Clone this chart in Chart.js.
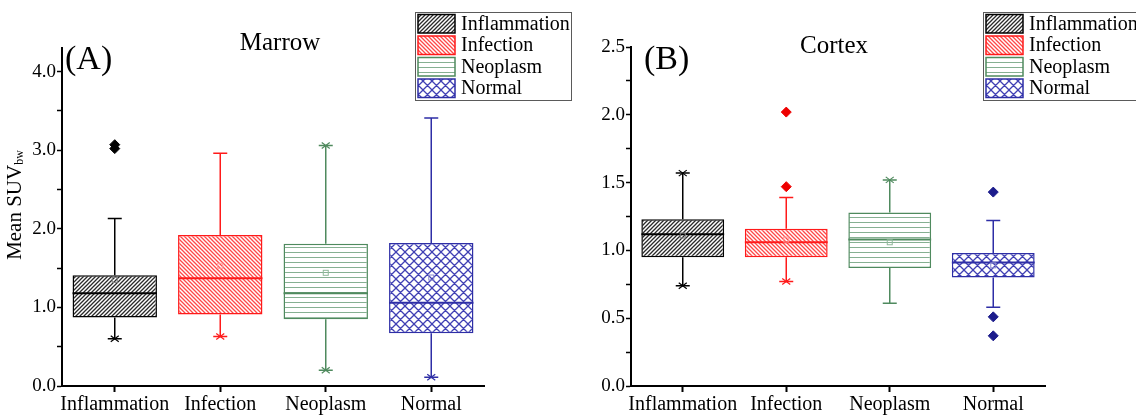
<!DOCTYPE html>
<html>
<head>
<meta charset="utf-8">
<script src="https://cdn.jsdelivr.net/npm/chart.js@4"></script>
<style>
  body { margin: 0; background: #fff; }
  #wrap { position: relative; width: 1136px; height: 416px; overflow: hidden; }
  #marrowWrap { position: absolute; left: 0; top: 0; width: 580px; height: 416px; }
  #cortexWrap { position: absolute; left: 568px; top: 0; width: 568px; height: 416px; }
</style>
</head>
<body>
<div id="wrap">
  <div id="marrowWrap"><canvas id="marrowChart" width="580" height="416"></canvas></div>
  <div id="cortexWrap"><canvas id="cortexChart" width="568" height="416"></canvas></div>
</div>
<script>
// Box chart data - mean SUVbw per diagnosis group

const categories = ['Inflammation', 'Infection', 'Neoplasm', 'Normal'];

// (A) Marrow
const marrowQ1 = [0.87, 0.91, 0.85, 0.67];
const marrowMedian = [1.18, 1.37, 1.18, 1.06];
const marrowQ3 = [1.41, 1.92, 1.81, 1.82];
const marrowLow = [0.60, 0.63, 0.20, 0.11];
const marrowHigh = [2.13, 2.96, 3.06, 3.41];
const marrowMean = [1.35, 1.53, 1.44, 1.38];
const marrowP1 = [0.60, 0.63, 0.20, 0.11];
const marrowP99 = [null, null, 3.06, null];
const marrowOutliers = [[3.02, 3.07], [], [], []];
const marrowTicks = [0, 1, 2, 3, 4];

// (B) Cortex
const cortexQ1 = [0.95, 0.95, 0.87, 0.80];
const cortexMedian = [1.12, 1.06, 1.08, 0.91];
const cortexQ3 = [1.23, 1.16, 1.28, 0.98];
const cortexLow = [0.74, 0.77, 0.61, 0.58];
const cortexHigh = [1.57, 1.39, 1.52, 1.22];
const cortexMean = [1.11, 1.08, 1.06, 0.89];
const cortexP1 = [0.74, 0.77, null, null];
const cortexP99 = [1.57, null, 1.52, null];
const cortexOutliers = [[], [2.02, 1.47], [], [1.43, 0.51, 0.37]];
const cortexTicks = [0, 0.5, 1, 1.5, 2, 2.5];

const lineColors = ['#000000', '#ff1a1a', '#4f8a5e', '#2e2ea6'];
const hatchColors = ['#2a2a2a', '#ff4848', '#86b092', '#4040b4'];
const meanColors = ['#808080', '#ff9a9a', '#8fb89a', '#8a8ad0'];
const dotColors = ['#000000', '#ee0000', '#2e7d40', '#1c1c8c'];
const hatchKinds = ['forward', 'back', 'horizontal', 'cross'];

const serif = "'Liberation Serif', 'Times New Roman', serif";

// small tiles used as fill patterns for the boxes
function hatch(kind, color) {
  const s = kind === 'cross' ? 9 : (kind === 'horizontal' ? 5 : 4);
  const c = document.createElement('canvas');
  c.width = s; c.height = s;
  const g = c.getContext('2d');
  g.fillStyle = '#fff';
  g.fillRect(0, 0, s, s);
  g.strokeStyle = color;
  g.lineWidth = kind === 'horizontal' ? 1 : 1.3;
  g.beginPath();
  if (kind === 'forward' || kind === 'cross') {
    g.moveTo(0, s); g.lineTo(s, 0);
    g.moveTo(-1, 1); g.lineTo(1, -1);
    g.moveTo(s - 1, s + 1); g.lineTo(s + 1, s - 1);
  }
  if (kind === 'back' || kind === 'cross') {
    g.moveTo(0, 0); g.lineTo(s, s);
    g.moveTo(-1, s - 1); g.lineTo(1, s + 1);
    g.moveTo(s - 1, -1); g.lineTo(s + 1, 1);
  }
  if (kind === 'horizontal') {
    g.moveTo(0, 2.5); g.lineTo(s, 2.5);
  }
  g.stroke();
  return g.createPattern(c, 'repeat');
}

const patterns = hatchKinds.map((k, i) => hatch(k, hatchColors[i]));

// whiskers, medians, means, markers, titles and the framed legend
function boxExtras(cfg) {
  return {
    id: 'boxExtras',
    afterDatasetsDraw(chart) {
      const { ctx } = chart;
      const x = chart.scales.x;
      const y = chart.scales.y;
      const bars = chart.getDatasetMeta(0).data;
      ctx.save();
      categories.forEach((cat, i) => {
        const cx = x.getPixelForValue(i);
        const half = bars[i].width / 2;
        const yq1 = y.getPixelForValue(cfg.q1[i]);
        const yq3 = y.getPixelForValue(cfg.q3[i]);
        const ylo = y.getPixelForValue(cfg.low[i]);
        const yhi = y.getPixelForValue(cfg.high[i]);
        ctx.strokeStyle = lineColors[i];
        ctx.lineWidth = 1.5;
        ctx.beginPath();
        ctx.moveTo(cx, yq3); ctx.lineTo(cx, yhi);
        ctx.moveTo(cx, yq1); ctx.lineTo(cx, ylo);
        ctx.moveTo(cx - 7, yhi); ctx.lineTo(cx + 7, yhi);
        ctx.moveTo(cx - 7, ylo); ctx.lineTo(cx + 7, ylo);
        ctx.stroke();
        // median
        const ym = y.getPixelForValue(cfg.median[i]);
        ctx.lineWidth = 2;
        ctx.beginPath();
        ctx.moveTo(cx - half, ym); ctx.lineTo(cx + half, ym);
        ctx.stroke();
        // 1% / 99% crosses
        ctx.lineWidth = 1.2;
        [cfg.p1[i], cfg.p99[i]].forEach(v => {
          if (v === null) return;
          const py = y.getPixelForValue(v);
          ctx.beginPath();
          ctx.moveTo(cx - 4, py - 3); ctx.lineTo(cx + 4, py + 3);
          ctx.moveTo(cx - 4, py + 3); ctx.lineTo(cx + 4, py - 3);
          ctx.stroke();
        });
        // mean
        const ymean = y.getPixelForValue(cfg.mean[i]);
        ctx.strokeStyle = meanColors[i];
        ctx.lineWidth = 1;
        ctx.strokeRect(cx - 2.5, ymean - 2.5, 5, 5);
      });
      ctx.restore();
    },
    afterDraw(chart) {
      const { ctx } = chart;
      ctx.save();
      ctx.fillStyle = '#000';
      ctx.textBaseline = 'middle';
      ctx.textAlign = 'center';
      ctx.font = '25px ' + serif;
      ctx.fillText(cfg.title, cfg.titleX, cfg.titleY);
      ctx.textAlign = 'left';
      ctx.font = '34px ' + serif;
      ctx.fillText(cfg.tag, cfg.tagX, 60);

      if (cfg.yTitle) {
        ctx.translate(15, 205);
        ctx.rotate(-Math.PI / 2);
        ctx.font = '21px ' + serif;
        const w1 = ctx.measureText('Mean SUV').width;
        ctx.font = '12px ' + serif;
        const w2 = ctx.measureText('bw').width;
        const start = -(w1 + w2) / 2;
        ctx.font = '21px ' + serif;
        ctx.fillText('Mean SUV', start, 0);
        ctx.font = '12px ' + serif;
        ctx.fillText('bw', start + w1, 5);
        ctx.setTransform(1, 0, 0, 1, 0, 0);
      }

      // legend frame
      const lx = 415, ly = 12;
      ctx.strokeStyle = '#5a5a5a';
      ctx.lineWidth = 1;
      ctx.strokeRect(lx + 0.5, ly + 0.5, 156, 88);
      categories.forEach((cat, i) => {
        const ry = ly + 2.5 + i * 21.5;
        ctx.fillStyle = patterns[i];
        ctx.fillRect(lx + 3, ry, 37, 18.5);
        ctx.strokeStyle = lineColors[i];
        ctx.lineWidth = 1.5;
        ctx.strokeRect(lx + 3, ry, 37, 18.5);
        ctx.fillStyle = '#000';
        ctx.font = '20px ' + serif;
        ctx.textAlign = 'left';
        ctx.fillText(cat, lx + 46, ry + 10);
      });
      ctx.restore();
    }
  };
}

function makeBoxChart(id, cfg) {
  const outlierPoints = [];
  const outlierColors = [];
  cfg.outliers.forEach((list, i) => {
    list.forEach(v => {
      outlierPoints.push({ x: categories[i], y: v });
      outlierColors.push(dotColors[i]);
    });
  });

  return new Chart(document.getElementById(id).getContext('2d'), {
    type: 'bar',
    data: {
      labels: categories,
      datasets: [{
        label: 'IQR',
        data: categories.map((c, i) => [cfg.q1[i], cfg.q3[i]]),
        backgroundColor: patterns,
        borderColor: lineColors,
        borderWidth: 1.5,
        borderSkipped: false,
        barPercentage: 0.8,
        categoryPercentage: 1
      }, {
        type: 'line',
        label: 'Outliers',
        data: outlierPoints,
        showLine: false,
        pointStyle: 'rectRot',
        pointRadius: 5,
        pointBackgroundColor: outlierColors,
        pointBorderColor: outlierColors,
        pointBorderWidth: 1
      }]
    },
    options: {
      responsive: false,
      animation: false,
      layout: { padding: { left: 0, top: cfg.top, right: cfg.right, bottom: 0 } },
      plugins: {
        legend: { display: false },
        tooltip: { enabled: false }
      },
      scales: {
        x: {
          offset: true,
          grid: { offset: false, drawOnChartArea: false, tickLength: 6, tickWidth: 2, color: '#000' },
          border: { color: '#000', width: 2 },
          ticks: {
            color: '#000', padding: 1, maxRotation: 0, minRotation: 0, autoSkip: false,
            font: { family: serif, size: 20 }
          },
          afterFit: s => { s.height = 30; }
        },
        y: {
          min: 0,
          max: cfg.max,
          grid: { drawOnChartArea: false, tickLength: 5, tickWidth: 1.5, color: '#000' },
          border: { color: '#000', width: 2 },
          ticks: {
            stepSize: cfg.step,
            color: '#000',
            padding: 1,
            font: { family: serif, size: 19 },
            callback: v => cfg.ticks.some(t => Math.abs(t - v) < 1e-6) ? v.toFixed(1) : ''
          },
          afterBuildTicks: s => {
            s.ticks = s.ticks.filter(t => Math.abs(t.value / cfg.step - Math.round(t.value / cfg.step)) < 1e-6);
          },
          afterFit: s => { s.width = cfg.axisX; }
        }
      }
    },
    plugins: [boxExtras(cfg)]
  });
}

makeBoxChart('marrowChart', {
  q1: marrowQ1, median: marrowMedian, q3: marrowQ3, low: marrowLow, high: marrowHigh,
  mean: marrowMean, p1: marrowP1, p99: marrowP99, outliers: marrowOutliers, ticks: marrowTicks,
  max: 4.3, step: 0.5, top: 48, right: 96, axisX: 62,
  title: 'Marrow', titleX: 280, titleY: 43, tag: '(A)', tagX: 65, yTitle: true
});

makeBoxChart('cortexChart', {
  q1: cortexQ1, median: cortexMedian, q3: cortexQ3, low: cortexLow, high: cortexHigh,
  mean: cortexMean, p1: cortexP1, p99: cortexP99, outliers: cortexOutliers, ticks: cortexTicks,
  max: 2.5, step: 0.25, top: 47, right: 91, axisX: 63,
  title: 'Cortex', titleX: 266, titleY: 46, tag: '(B)', tagX: 76, yTitle: false
});
</script>
</body>
</html>
